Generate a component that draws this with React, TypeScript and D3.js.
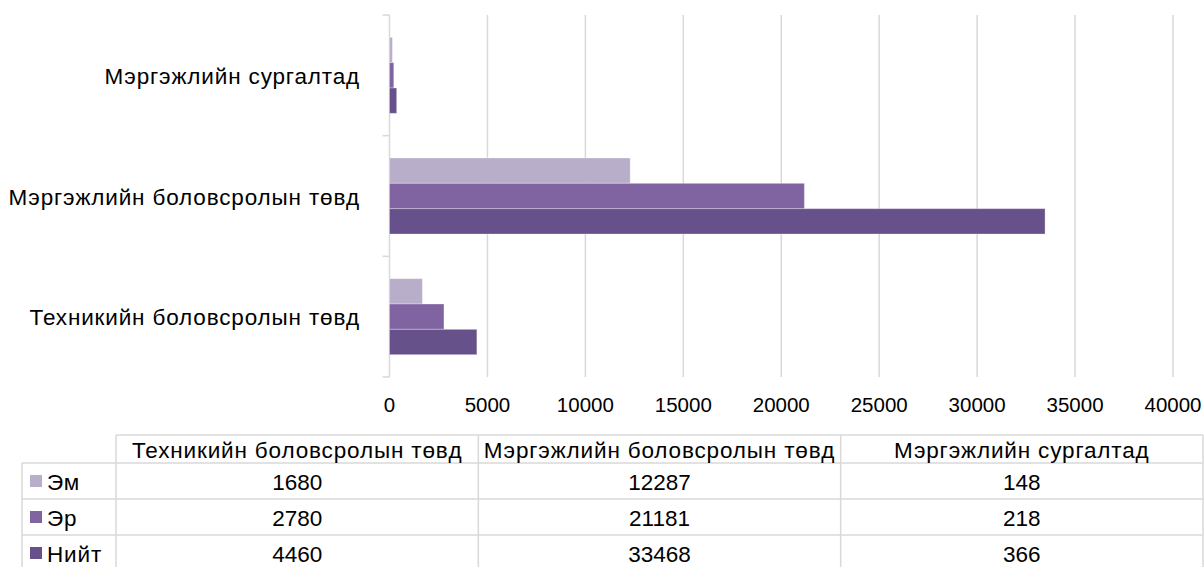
import React from "react";
import * as d3 from "d3";

const categories = [
  "Техникийн боловсролын төвд",
  "Мэргэжлийн боловсролын төвд",
  "Мэргэжлийн сургалтад",
];
const seriesNames = ["Эм", "Эр", "Нийт"];
const emValues = [1680, 12287, 148];
const erValues = [2780, 21181, 218];
const niitValues = [4460, 33468, 366];
const xTicks = [0, 5000, 10000, 15000, 20000, 25000, 30000, 35000, 40000];
const colors = ["#b8aec9", "#8064a2", "#67518a"];

const seriesValues = [emValues, erValues, niitValues];

const W = 1204;
const H = 567;
const FONT = "'Liberation Sans', Arial, sans-serif";
const FS_LABEL = 22.5;
const FS_TICK = 20.5;
const FS_TABLE = 22.5;
const CYR_SPACING = 0.85;

export default function App() {
  const plotLeft = 389.5;
  const plotRight = 1173;
  const plotTop = 15;
  const plotBottom = 377;

  const x = d3.scaleLinear().domain([0, 40000]).range([plotLeft, plotRight]);
  // categories listed bottom to top (Excel reversed order)
  const y = d3
    .scaleBand<string>()
    .domain([...categories].reverse())
    .range([plotTop, plotBottom])
    .paddingInner(0.37)
    .paddingOuter(0.185);
  const ySub = d3
    .scaleBand<string>()
    .domain(seriesNames)
    .range([0, y.bandwidth()]);

  const step = y.step();
  const catTicks = d3.range(categories.length + 1).map((i) => plotTop + i * step);

  // table geometry
  const tLeft = 22;
  const tColStart = 116;
  const tRight = 1203;
  const tTop = 435;
  const headerBottom = 463;
  const rowH = 36;
  const colX = d3
    .scaleBand<string>()
    .domain(categories)
    .range([tColStart, tRight]);
  const gridColor = "#d9d9d9";

  return (
    <svg
      width={W}
      height={H}
      style={{ position: "absolute", left: 0, top: 0, background: "#fff" }}
      fontFamily={FONT}
    >
      {/* gridlines */}
      {xTicks.map((t) =>
        t === 0 ? null : (
          <line
            key={"g" + t}
            x1={x(t)}
            x2={x(t)}
            y1={plotTop}
            y2={plotBottom}
            stroke={gridColor}
            strokeWidth={1.5}
          />
        )
      )}
      {/* left axis */}
      <line x1={plotLeft} x2={plotLeft} y1={plotTop} y2={plotBottom} stroke={gridColor} strokeWidth={1.5} />
      {catTicks.map((ty, i) => (
        <line key={"ct" + i} x1={plotLeft - 7} x2={plotLeft} y1={ty} y2={ty} stroke={gridColor} strokeWidth={1.5} />
      ))}
      {/* bars */}
      {categories.map((c, ci) =>
        seriesNames.map((s, si) => (
          <rect
            key={c + s}
            x={x(0)}
            y={(y(c) as number) + (ySub(s) as number)}
            width={x(seriesValues[si][ci]) - x(0)}
            height={ySub.bandwidth()}
            fill={colors[si]}
            stroke="rgba(255,255,255,0.3)"
            strokeWidth={1}
          />
        ))
      )}
      {/* category labels */}
      {categories.map((c) => (
        <text
          key={"cl" + c}
          x={360}
          y={(y(c) as number) + y.bandwidth() / 2 + 1}
          textAnchor="end"
          dominantBaseline="central"
          fontSize={FS_LABEL}
          letterSpacing={CYR_SPACING}
          fill="#000"
        >
          {c}
        </text>
      ))}
      {/* x tick labels */}
      {xTicks.map((t) => (
        <text
          key={"xl" + t}
          x={x(t)}
          y={404}
          textAnchor="middle"
          dominantBaseline="central"
          fontSize={FS_TICK}
          fill="#000"
        >
          {t}
        </text>
      ))}
      {/* data table lines */}
      <line x1={tColStart} x2={tRight} y1={tTop} y2={tTop} stroke={gridColor} strokeWidth={1.5} />
      {seriesNames.map((s, i) => (
        <line
          key={"hl" + s}
          x1={tLeft}
          x2={tRight}
          y1={headerBottom + i * rowH}
          y2={headerBottom + i * rowH}
          stroke={gridColor}
          strokeWidth={1.5}
        />
      ))}
      <line x1={tLeft} x2={tLeft} y1={headerBottom} y2={H} stroke={gridColor} strokeWidth={1.5} />
      {categories.map((c) => (
        <line
          key={"vl" + c}
          x1={colX(c)}
          x2={colX(c)}
          y1={tTop}
          y2={H}
          stroke={gridColor}
          strokeWidth={1.5}
        />
      ))}
      <line x1={tRight} x2={tRight} y1={tTop} y2={H} stroke={gridColor} strokeWidth={1.5} />
      {/* header texts */}
      {categories.map((c) => (
        <text
          key={"th" + c}
          x={(colX(c) as number) + colX.bandwidth() / 2}
          y={(tTop + headerBottom) / 2 + 1}
          textAnchor="middle"
          dominantBaseline="central"
          fontSize={FS_TABLE}
          letterSpacing={CYR_SPACING}
          fill="#000"
        >
          {c}
        </text>
      ))}
      {/* rows */}
      {seriesNames.map((s, si) => {
        const cy = headerBottom + si * rowH + rowH / 2;
        return (
          <g key={"row" + s}>
            <rect x={30} y={cy - 6} width={12} height={12} fill={colors[si]} />
            <text
              x={47}
              y={cy + 1}
              dominantBaseline="central"
              fontSize={FS_TABLE}
              letterSpacing={CYR_SPACING}
              fill="#000"
            >
              {s}
            </text>
            {categories.map((c, ci) => (
              <text
                key={"v" + c}
                x={(colX(c) as number) + colX.bandwidth() / 2}
                y={cy + 1}
                textAnchor="middle"
                dominantBaseline="central"
                fontSize={FS_TABLE}
                fill="#000"
              >
                {seriesValues[si][ci]}
              </text>
            ))}
          </g>
        );
      })}
    </svg>
  );
}
